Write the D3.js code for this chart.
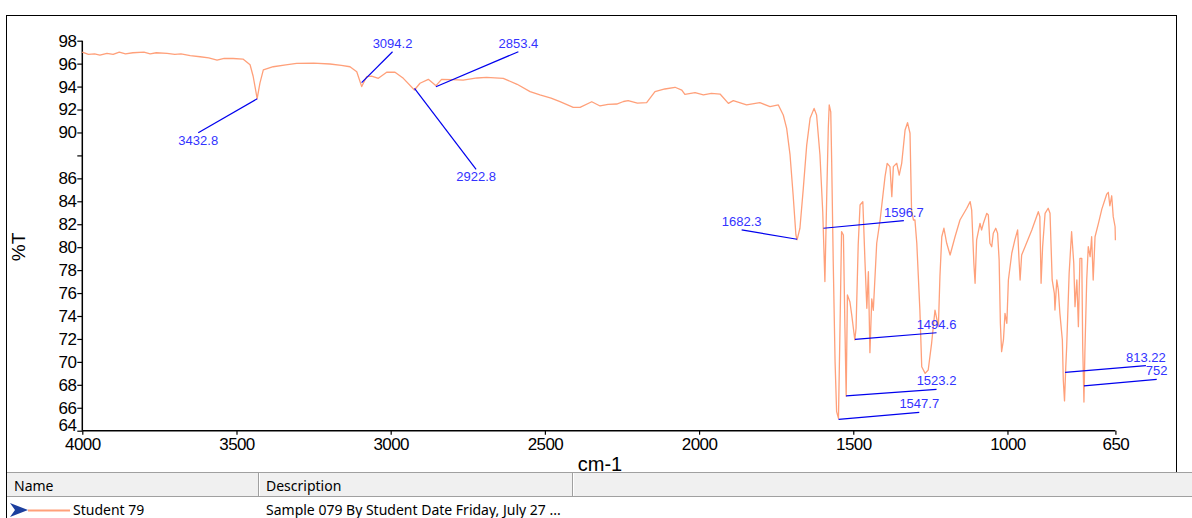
<!DOCTYPE html>
<html>
<head>
<meta charset="utf-8">
<script src="https://cdn.jsdelivr.net/npm/d3@7"></script>
<style>
  html, body { margin: 0; padding: 0; background: #fff; }
  svg { display: block; }
</style>
</head>
<body>
<div id="chart"></div>
<script>
// spectrum: wavenumber (cm-1) and %T
var wavenumber = [4000,3980,3960,3943,3920,3900,3880,3860,3836,3800,3780,3760,3725,3700,3680,3650,3618,3590,3563,3540,
  3511,3479,3456,3446,3433,3424,3413,3381,3340,3305,3250,3197,3160,3132,3110,3094,3078,3062,3040,3013,
  2986,2959,2923,2905,2878,2853,2835,2800,2765,2720,2689,2635,2590,2548,2516,2480,2451,2408,2386,2348,
  2321,2295,2267,2245,2230,2200,2170,2143,2111,2078,2056,2046,2013,1986,1960,1932,1905,1889,1846,1803,
  1770,1743,1727,1716,1705,1695,1686,1682,1673,1662,1651,1640,1627,1619,1608,1599,1592,1586,1581,1578,
  1573,1570,1565,1559,1554,1548,1543,1538,1532,1527,1523,1519,1511,1505,1495,1491,1484,1478,1469,1462,
  1456,1451,1446,1440,1435,1424,1413,1397,1390,1381,1375,1370,1359,1351,1343,1332,1324,1316,1311,1305,
  1300,1294,1284,1278,1267,1257,1246,1235,1224,1219,1213,1206,1197,1186,1170,1154,1132,1121,1116,1109,
  1105,1100,1089,1084,1078,1067,1062,1057,1051,1046,1038,1032,1027,1023,1019,1013,1008,1002,997,986,
  976,967,963,959,954,943,921,900,895,891,886,878,868,862,855,848,846,840,835,830,
  822,819,815,811,808,800,792,785,781,775,770,765,759,756,752,749,743,738,732,727,
  722,716,705,694,678,673,668,662,657,651,650];
var transmittance = [97.0,96.8,96.85,96.75,96.9,96.8,97.0,96.85,96.95,97.0,96.85,96.95,96.9,96.8,96.85,96.7,96.6,96.5,96.3,96.45,
  96.45,96.4,95.9,94.9,92.95,94.3,95.45,95.73,95.9,96.03,96.05,95.97,95.85,95.73,95.3,94.0,94.86,94.92,94.72,95.25,
  95.25,94.72,93.7,94.29,94.63,94.08,94.63,94.6,94.57,94.75,94.81,94.72,94.2,93.56,93.27,93.0,92.68,92.19,92.19,92.68,
  92.31,92.45,92.48,92.7,92.77,92.55,92.6,93.56,93.79,93.94,93.7,93.33,93.47,93.27,93.4,93.35,92.54,92.77,92.4,92.6,
  92.25,92.4,91.52,90.36,88.04,84.55,81.06,80.65,81.65,85.13,88.9,91.23,92.1,91.52,88.04,83.09,77.0,84.55,90.36,92.4,
  91.8,87.45,78.73,70.0,65.66,65.08,72.93,81.35,81.06,72.93,67.0,75.83,75.25,74.09,71.91,72.93,80.19,83.68,83.97,78.73,
  74.67,77.86,70.8,75.5,74.5,80.34,82.37,86.15,87.31,87.02,84.4,87.02,87.31,86.29,87.31,90.21,90.85,89.93,83.23,82.37,
  82.37,80.34,74.52,69.58,69.0,69.29,71.62,74.52,73.07,77.43,80.91,81.65,80.34,79.32,80.91,82.37,83.39,83.97,83.23,78.6,
  76.85,80.63,82.08,81.5,82.08,82.95,82.8,80.34,80.04,81.21,81.65,81.21,78.88,73.36,70.89,71.91,74.23,73.36,77.14,79.47,
  80.63,81.5,79.17,77.14,79.32,80.04,81.5,83.09,82.66,76.85,80.04,82.95,83.39,82.95,77.14,75.98,74.52,77.14,76.27,74.23,
  71.91,68.42,66.6,69.5,71.32,77.72,81.35,78.6,74.81,77.14,73.07,79.03,79.03,71.32,66.5,70.75,77.14,80.04,79.17,80.91,
  77.14,80.91,82.08,83.32,84.63,84.78,83.61,84.48,82.66,81.78,80.6];

// peak picks: marked point and where the leader line ends (both in data units)
var peakLabels = ["3432.8","3094.2","2922.8","2853.4","1682.3","1596.7","1547.7","1523.2","1494.6","813.22","752"];
var peakWn     = [3432.8,3094.2,2922.8,2853.4,1682.3,1596.7,1547.7,1523.2,1494.6,813.22,752];
var peakT      = [92.94,94.34,93.85,93.99,80.69,81.65,64.99,67.03,71.97,69.09,67.9];
var labelWn    = [3624,2994,2723,2586,1862,1336,1286,1230,1230,551,516];
var labelT     = [89.98,97.04,86.79,97.04,81.5,82.31,65.6,67.61,72.54,69.67,68.48];

var xTicks = [4000,3500,3000,2500,2000,1500,1000,650];
var xTickLabels = ["4000","3500","3000","2500","2000","1500","1000","650"];
var yTicks = [64,66,68,70,72,74,76,78,80,82,84,86,88,90,92,94,96,98];
var yTickLabels = ["64","66","68","70","72","74","76","78","80","82","84","86","","90","92","94","96","98"];

var seriesName = "Student 79";
var seriesDesc = "Sample 079 By Student Date Friday, July 27 ...";

var width = 1192, height = 518;
var svg = d3.select("#chart").append("svg").attr("width", width).attr("height", height);

// frame round the plot
svg.append("rect").attr("x", 6.5).attr("y", 15.5).attr("width", 1170).attr("height", 457)
  .attr("fill", "none").attr("stroke", "#000").attr("stroke-width", 1);
svg.append("line").attr("x1", 6.5).attr("x2", 6.5).attr("y1", 472).attr("y2", height)
  .attr("stroke", "#000");

var x = d3.scaleLinear().domain([4000, 650]).range([82.3, 1115.4]);
var y = d3.scaleLinear().domain([64, 98]).range([430.7, 40.7]);

var yAxis = d3.axisLeft(y).tickValues(yTicks).tickSize(5).tickPadding(1)
  .tickFormat(function(d, i) { return yTickLabels[i]; });
var xAxis = d3.axisBottom(x).tickValues(xTicks).tickSize(4).tickPadding(3)
  .tickFormat(function(d, i) { return xTickLabels[i]; });

var gy = svg.append("g").attr("transform", "translate(82.3,0)").call(yAxis);
var gx = svg.append("g").attr("transform", "translate(0,430.7)").call(xAxis);
[gx, gy].forEach(function(g) {
  g.select(".domain").attr("stroke", "#000").attr("stroke-width", 1.5);
  g.selectAll(".tick line").attr("stroke", "#000").attr("stroke-width", 1.2);
  g.selectAll("text").attr("fill", "#000")
    .style("font-family", "'Liberation Sans', Arial, sans-serif").style("font-size", "17px")
    .style("letter-spacing", "-0.6px");
});
// plain axis lines, no outer tick stubs
gy.select(".domain").attr("d", "M0," + y(98) + "V" + y(64));
gx.select(".domain").attr("d", "M" + x(4000) + ",0H" + x(650));
// the bottom y label sits on its tick so it clears 4000
gy.selectAll(".tick").filter(function(d) { return d === 64; }).select("text").attr("dy", "0em");

svg.append("text").attr("x", 600).attr("y", 471).attr("text-anchor", "middle")
  .style("font-family", "'Liberation Sans', Arial, sans-serif").style("font-size", "20px")
  .text("cm-1");
svg.append("text").attr("transform", "translate(25,247) rotate(-90)").attr("text-anchor", "middle")
  .style("font-family", "'Liberation Sans', Arial, sans-serif").style("font-size", "19px")
  .text("%T");

// spectrum
var pts = wavenumber.map(function(w, i) { return [w, transmittance[i]]; });
var line = d3.line().x(function(d) { return x(d[0]); }).y(function(d) { return y(d[1]); });
svg.append("path").datum(pts).attr("d", line).attr("fill", "none")
  .attr("stroke", "#ffa07a").attr("stroke-width", 1.3).attr("stroke-linejoin", "round");

// peak labels
for (var i = 0; i < peakLabels.length; i++) {
  svg.append("line")
    .attr("x1", x(peakWn[i])).attr("y1", y(peakT[i]))
    .attr("x2", x(labelWn[i])).attr("y2", y(labelT[i]))
    .attr("stroke", "#0000ee").attr("stroke-width", 1.2);
  var below = labelT[i] < peakT[i];
  svg.append("text")
    .attr("x", x(labelWn[i])).attr("y", y(labelT[i]) + (below ? 12 : -4))
    .attr("text-anchor", "middle").attr("fill", "#3333ff")
    .style("font-family", "'Liberation Sans', Arial, sans-serif").style("font-size", "13px")
    .text(peakLabels[i]);
}

// series table under the plot
var tableFont = "'Noto Sans', 'Open Sans', sans-serif";
svg.append("rect").attr("x", 7).attr("y", 472.5).attr("width", width - 7).attr("height", 24)
  .attr("fill", "#f0f0f0").attr("stroke", "none");
svg.append("line").attr("x1", 7).attr("x2", width).attr("y1", 472.5).attr("y2", 472.5).attr("stroke", "#a0a0a0");
svg.append("line").attr("x1", 7).attr("x2", width).attr("y1", 496.5).attr("y2", 496.5).attr("stroke", "#a0a0a0");
[258.5, 572.5].forEach(function(cx) {
  svg.append("line").attr("x1", cx).attr("x2", cx).attr("y1", 473).attr("y2", 496).attr("stroke", "#a0a0a0");
  svg.append("line").attr("x1", cx + 1).attr("x2", cx + 1).attr("y1", 473).attr("y2", 496).attr("stroke", "#fff");
});
svg.append("text").attr("x", 14).attr("y", 491).style("font-family", tableFont).style("font-size", "14px").text("Name");
svg.append("text").attr("x", 266).attr("y", 491).style("font-family", tableFont).style("font-size", "14px").text("Description");

svg.append("path").attr("d", "M10,503 L28,510 L10,517 L15,510 Z").attr("fill", "#1c3f9e");
svg.append("line").attr("x1", 28).attr("x2", 70).attr("y1", 510.5).attr("y2", 510.5)
  .attr("stroke", "#ffa07a").attr("stroke-width", 2);
svg.append("text").attr("x", 73).attr("y", 515).style("font-family", tableFont).style("font-size", "14px").text(seriesName);
svg.append("text").attr("x", 266).attr("y", 515).style("font-family", tableFont).style("font-size", "14px").text(seriesDesc);
</script>
</body>
</html>
